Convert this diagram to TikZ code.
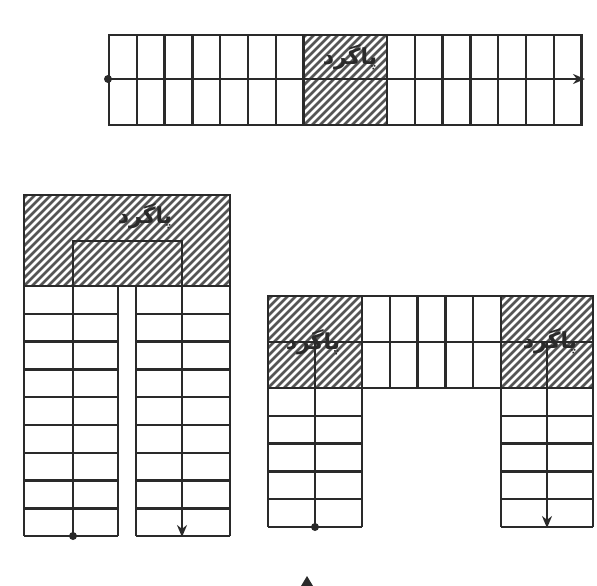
\documentclass[tikz,border=0pt]{standalone}
\usepackage{fontspec}
\usepackage{tikz}
\usetikzlibrary{arrows.meta, calc}
\newfontfamily\arabicfont[Script=Arabic]{DejaVu Sans}
\TeXXeTstate=1
\definecolor{ink}{HTML}{2A2A2A}
\definecolor{hatchgray}{HTML}{555555}

\tikzset{
  stair/.style={draw=ink, line width=2.5pt},
  walk/.style={draw=ink, line width=2.6pt},
  walkend/.style={-{Stealth[length=12pt, width=10pt]}},
  landlabel/.style={font=\arabicfont\bfseries\fontsize{22}{26}\selectfont, text=ink, inner sep=0pt}
}
% hatched landing: #1,#2 upper left, #3,#4 lower right
\newcommand{\hatchbox}[4]{%
  \begin{scope}
    \clip (#1,#2) rectangle (#3,#4);
    \foreach \s in {-104,-96,...,224}
      \draw[hatchgray, line width=2.6pt] ({#1+\s},#4) -- ++(130,-130);
  \end{scope}
}

\begin{document}
\begin{tikzpicture}[x=1pt, y=-1pt, >=Stealth]
  \useasboundingbox (0,0) rectangle (597,586);

  % Straight stair with landing in the middle
  \hatchbox{304}{35}{387}{125}
  \foreach \i in {0,1,2,3,4,5,6,7,10,11,12,13,14,15,16,17} {
    \draw[stair] ({109+27.8*\i},35) -- ({109+27.8*\i},125);
  }
  \draw[stair] (109,35) rectangle (582,125);
  \coordinate (t-start) at (108,79);
  \coordinate (t-end) at (585,79);
  \fill[ink] (t-start) circle (4);
  \draw[walk, walkend] (t-start) -- (t-end);
  \node[landlabel] (t-land) at (350,57) {\beginR پاگرد\endR};

  % U-shaped stair (two flights, one landing)
  \hatchbox{24}{195}{230}{286}
  \draw[stair] (24,195) rectangle (230,286);
  \foreach \xa/\xb in {24/118, 136/230} {
    \foreach \j in {0,...,9}
      \draw[stair] (\xa,{286+27.8*\j}) -- (\xb,{286+27.8*\j});
    \draw[stair] (\xa,286) -- (\xa,536);
    \draw[stair] (\xb,286) -- (\xb,536);
  }
  \coordinate (u-start) at (73,536);
  \coordinate (u-turn1) at (73,241);
  \coordinate (u-turn2) at (182,241);
  \coordinate (u-end) at (182,537);
  \fill[ink] (u-start) circle (4);
  \draw[walk, walkend] (u-start) -- (u-turn1) -- (u-turn2) -- (u-end);
  \node[landlabel] (u-land) at (145,216) {\beginR پاگرد\endR};

  % Three-flight stair with two landings
  \hatchbox{268}{296}{362}{388}
  \hatchbox{501}{296}{593}{388}
  \draw[stair] (268,296) rectangle (593,388);
  \foreach \i in {0,...,5} {
    \draw[stair] ({362+27.8*\i},296) -- ({362+27.8*\i},388);
  }
  \draw[stair] (268,342) -- (593,342);
  \foreach \xa/\xb in {268/362, 501/593} {
    \foreach \j in {0,...,5}
      \draw[stair] (\xa,{388+27.8*\j}) -- (\xb,{388+27.8*\j});
    \draw[stair] (\xa,388) -- (\xa,527);
    \draw[stair] (\xb,388) -- (\xb,527);
  }
  \coordinate (w-start) at (315,527);
  \coordinate (w-turn1) at (315,342);
  \coordinate (w-turn2) at (547,342);
  \coordinate (w-end) at (547,528);
  \fill[ink] (w-start) circle (4);
  \draw[walk, walkend] (w-start) -- (w-turn1) -- (w-turn2) -- (w-end);
  \node[landlabel] (w-land1) at (313,342) {\beginR پاگرد\endR};
  \node[landlabel] (w-land2) at (550,341) {\beginR پاگرد\endR};

  % mark below
  \fill[ink] (307,576) -- (313,586) -- (301,586) -- cycle;
\end{tikzpicture}
\end{document}
